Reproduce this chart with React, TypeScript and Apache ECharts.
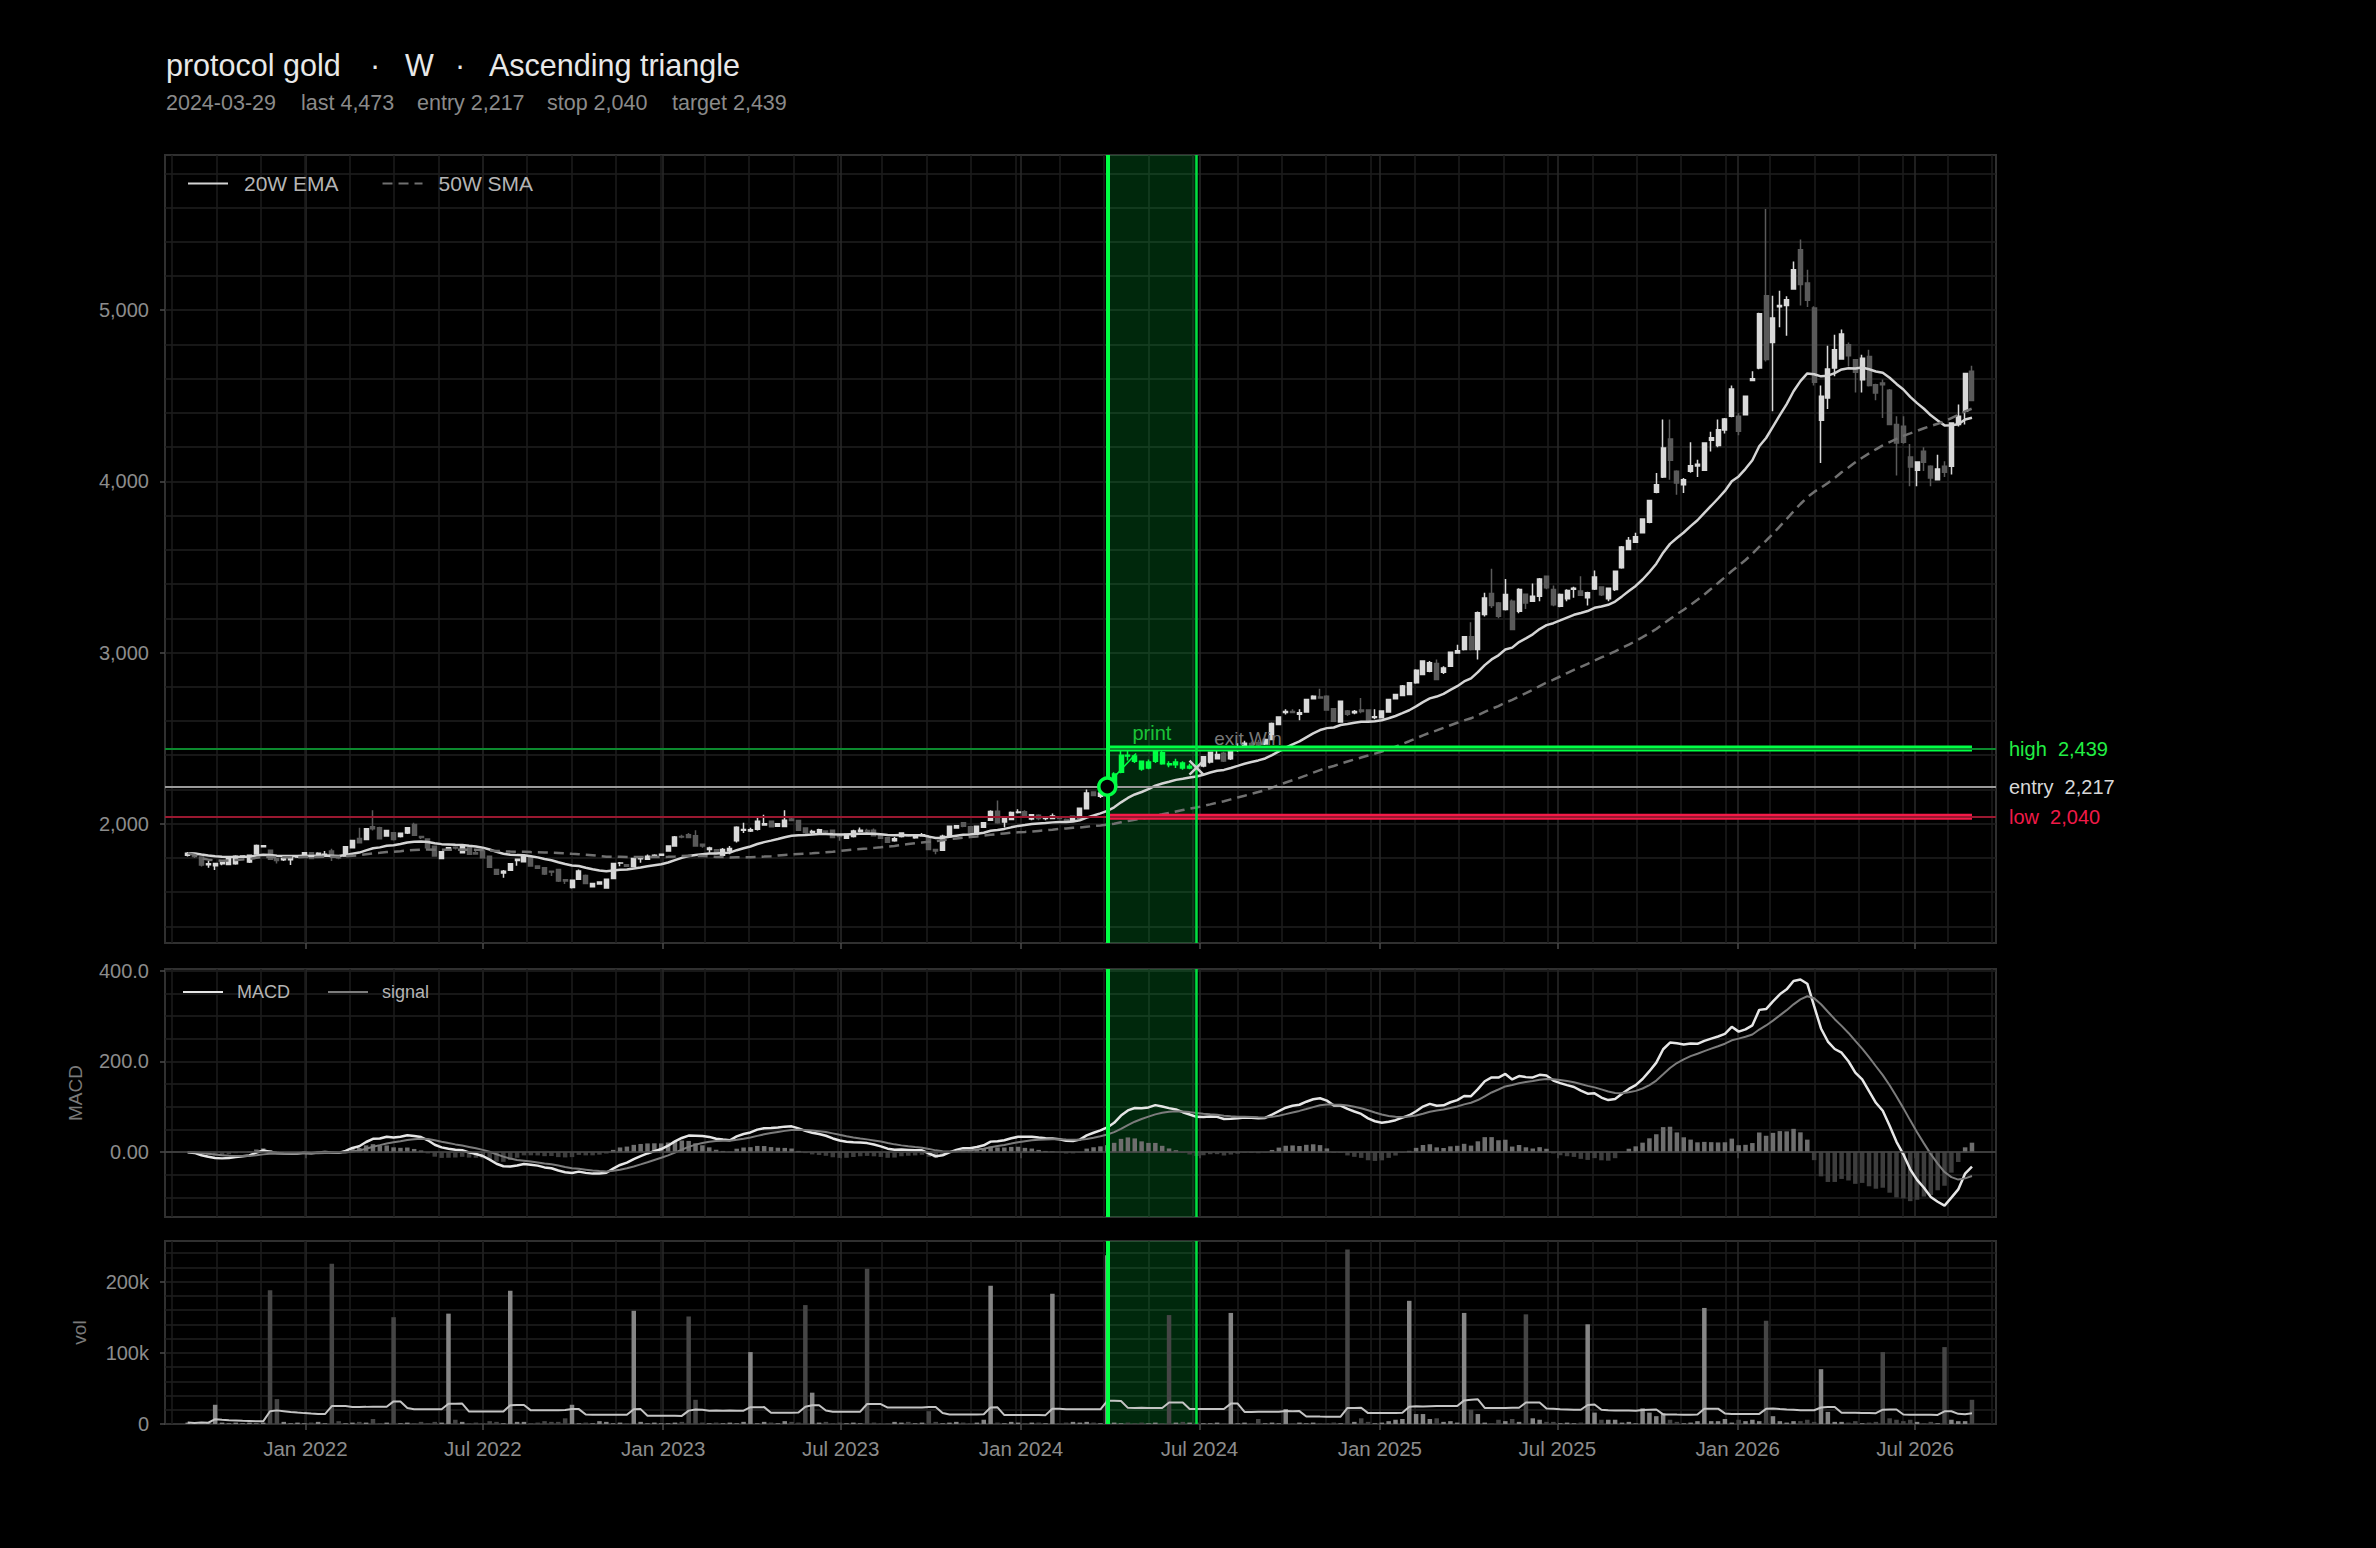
import React, { useEffect, useRef } from "react";
import * as echarts from "echarts";

const FONT = '"Liberation Sans", Arial, Helvetica, sans-serif';
const START_DATE = "2021-09-03";
const WEEK_MS = 7 * 24 * 3600 * 1000;

// weekly candles: [open, close, low, high]
const OHLC: number[][] = [
  [1815,1828,1808,1835],[1826,1808,1800,1830],[1805,1758,1750,1810],[1760,1766,1742,1782],[1755,1767,1730,1772],
  [1766,1776,1757,1785],[1762,1795,1757,1800],[1766,1810,1760,1815],[1805,1811,1800,1816],[1776,1815,1770,1820],
  [1823,1873,1820,1878],[1866,1871,1862,1876],[1845,1792,1788,1850],[1796,1785,1768,1801],[1790,1796,1782,1800],
  [1790,1805,1758,1811],[1806,1811,1800,1815],[1811,1830,1808,1835],[1830,1797,1795,1834],[1809,1828,1806,1833],
  [1818,1822,1811,1840],[1840,1807,1782,1853],[1806,1800,1792,1811],[1811,1865,1808,1868],[1860,1902,1858,1906],
  [1913,1889,1885,1977],[1908,1970,1905,1975],[1982,1970,1960,2078],[1977,1912,1908,1982],[1928,1961,1925,1965],
  [1947,1908,1902,1950],[1925,1944,1920,1948],[1945,1976,1940,1980],[1996,1932,1928,2006],[1925,1920,1910,1930],
  [1910,1860,1855,1915],[1869,1811,1808,1873],[1797,1836,1793,1840],[1855,1860,1850,1862],[1862,1858,1850,1869],
  [1831,1870,1828,1875],[1860,1821,1818,1865],[1830,1823,1818,1840],[1840,1801,1798,1845],[1810,1745,1742,1812],
  [1733,1705,1700,1737],[1712,1722,1684,1730],[1728,1766,1725,1770],[1785,1792,1755,1795],[1778,1811,1775,1815],
  [1801,1753,1750,1805],[1753,1740,1736,1756],[1743,1706,1700,1746],[1722,1718,1694,1725],[1733,1665,1660,1736],
  [1673,1665,1648,1676],[1627,1669,1622,1672],[1675,1723,1672,1733],[1698,1650,1646,1703],[1631,1650,1628,1653],
  [1648,1660,1645,1664],[1625,1675,1620,1678],[1680,1768,1676,1772],[1770,1771,1752,1776],[1760,1752,1748,1762],
  [1750,1797,1747,1800],[1795,1800,1772,1811],[1792,1810,1790,1820],[1805,1815,1802,1821],[1815,1822,1811,1826],
  [1840,1870,1838,1873],[1870,1922,1868,1928],[1925,1922,1915,1935],[1935,1920,1917,1945],[1930,1870,1868,1962],
  [1880,1870,1860,1885],[1850,1858,1830,1865],[1848,1832,1825,1850],[1815,1850,1808,1858],[1840,1855,1822,1870],
  [1900,1980,1890,1985],[1962,1966,1945,2006],[1958,1965,1952,1977],[1968,2015,1960,2035],[1992,2000,1990,2053],
  [2015,1982,1978,2018],[1985,2000,1982,2003],[1983,2020,1980,2078],[2028,2018,2015,2040],[2018,1962,1958,2020],
  [1975,1947,1942,1980],[1948,1955,1938,1965],[1950,1965,1945,1970],[1958,1952,1940,1962],[1962,1920,1915,1965],
  [1935,1925,1900,1940],[1915,1938,1910,1942],[1925,1958,1920,1965],[1955,1962,1948,1978],[1960,1955,1945,1970],
  [1962,1930,1925,1972],[1935,1915,1910,1938],[1918,1892,1888,1920],[1900,1912,1895,1923],[1925,1945,1920,1950],
  [1935,1928,1922,1940],[1918,1925,1912,1930],[1930,1935,1925,1945],[1918,1850,1845,1925],[1850,1840,1822,1852],
  [1845,1927,1842,1935],[1925,1985,1920,1990],[1975,1988,1972,1990],[2005,1985,1980,2010],[1982,1945,1940,1985],
  [1940,1985,1935,1988],[1980,2005,1975,2010],[2020,2072,2018,2078],[2073,2005,2000,2135],[2010,2030,1978,2045],
  [2025,2065,2022,2072],[2065,2068,2060,2085],[2070,2040,2035,2078],[2028,2052,2020,2055],[2050,2030,2020,2055],
  [2030,2031,2020,2040],[2030,2045,2028,2060],[2040,2030,2025,2045],[2025,2010,2005,2030],[2020,2042,2018,2045],
  [2035,2090,2032,2095],[2088,2180,2085,2200],[2185,2165,2160,2188],[2160,2180,2150,2185],[2180,2217,2170,2250],
  [2220,2290,2215,2300],[2300,2400,2295,2430],[2400,2395,2370,2425],[2395,2365,2355,2405],[2365,2320,2310,2370],
  [2325,2360,2318,2375],[2365,2420,2355,2439],[2415,2350,2345,2430],[2350,2345,2330,2365],[2345,2360,2325,2380],
  [2355,2325,2315,2365],[2325,2335,2318,2350],[2335,2330,2320,2345],[2337,2391,2330,2395],[2360,2418,2352,2422],
  [2380,2405,2375,2440],[2411,2366,2360,2420],[2379,2434,2372,2438],[2430,2450,2420,2470],[2450,2470,2440,2485],
  [2468,2455,2445,2480],[2475,2460,2448,2490],[2465,2492,2460,2500],[2492,2586,2488,2592],[2580,2623,2575,2628],
  [2650,2655,2638,2668],[2655,2650,2645,2668],[2640,2648,2605,2668],[2652,2726,2648,2730],[2730,2745,2725,2750],
  [2740,2735,2730,2788],[2745,2664,2660,2750],[2671,2599,2595,2675],[2594,2716,2590,2720],[2658,2640,2630,2665],
  [2648,2655,2640,2665],[2665,2655,2645,2735],[2664,2599,2595,2668],[2620,2625,2610,2668],[2619,2658,2615,2662],
  [2652,2726,2648,2730],[2730,2755,2725,2760],[2749,2804,2745,2810],[2755,2823,2750,2828],[2823,2897,2818,2902],
  [2872,2950,2868,2955],[2891,2940,2885,2950],[2936,2842,2838,2960],[2885,2910,2875,2920],[2920,3002,2915,3005],
  [2998,3010,2995,3046],[3018,3092,3012,3095],[3092,3018,3012,3177],[3018,3232,2960,3240],[3222,3319,3210,3349],
  [3345,3275,3260,3489],[3290,3212,3200,3295],[3251,3339,3245,3430],[3300,3135,3130,3310],[3241,3368,3230,3375],
  [3340,3290,3255,3345],[3300,3329,3295,3403],[3329,3430,3300,3435],[3446,3378,3370,3450],[3368,3280,3270,3392],
  [3271,3339,3265,3345],[3314,3362,3300,3370],[3370,3375,3320,3384],[3360,3335,3330,3446],[3320,3350,3275,3355],
  [3372,3442,3365,3480],[3383,3338,3330,3388],[3315,3376,3300,3380],[3368,3475,3360,3480],[3495,3617,3490,3622],
  [3602,3654,3598,3675],[3645,3676,3640,3700],[3700,3781,3695,3785],[3761,3889,3755,3893],[3936,3981,3930,4049],
  [4026,4195,4020,4361],[4247,4123,4010,4361],[4059,3991,3922,4065],[3981,4010,3932,4020],[4059,4092,4050,4229],
  [4090,4100,4025,4127],[4065,4224,4060,4228],[4240,4255,4175,4290],[4210,4302,4200,4361],[4300,4365,4280,4370],
  [4381,4540,4375,4560],[4381,4293,4270,4400],[4390,4497,4385,4500],[4590,4600,4585,4643],[4663,4980,4655,4985],
  [5085,4712,4700,5591],[4812,4954,4410,5085],[5020,5027,4900,5114],[5027,5062,4851,5081],[5124,5237,5120,5285],
  [5354,5150,5027,5413],[5159,5058,5019,5237],[5013,4579,4560,5023],[4357,4497,4108,4560],[4487,4657,4423,4793],
  [4662,4769,4614,4857],[4715,4861,4710,4887],[4798,4734,4672,4812],[4711,4637,4520,4715],[4594,4720,4520,4740],
  [4730,4560,4555,4769],[4565,4517,4474,4570],[4575,4565,4370,4595],[4532,4332,4330,4540],[4332,4224,4034,4380],
  [4322,4228,4220,4380],[4143,4084,3972,4219],[4065,4113,3972,4118],[4176,4112,4060,4200],[4088,4020,3972,4095],
  [4010,4072,4005,4156],[4088,4053,4026,4117],[4088,4341,4040,4345],[4332,4380,4320,4449],[4410,4630,4332,4635],
  [4643,4473,4470,4676],
];

// weekly volume, thousands
const VOLUME_K: number[] = [
  2,1,3,1,27,2,1,2,1,2, 1,2,188,35,3,1,2,1,2,3, 1,225,4,1,2,3,2,7,1,2,
  150,1,2,1,3,1,3,2,155,6, 3,1,2,1,4,3,1,187,3,3, 1,2,4,3,3,8,27,1,2,1,
  4,3,1,2,1,159,3,1,2,1, 1,2,3,151,34,2,1,2,1,2, 1,3,101,1,3,2,1,4,3,2,
  167,44,2,3,1,2,1,2,1,218, 2,1,1,3,2,3,1,2,18,3, 1,2,3,2,1,2,6,194,2,1,
  3,2,1,2,2,1,183,1,2,3, 2,3,2,1,237,2,1,2,1,2, 1,2,1,153,2,3,2,2,1,1,
  2,1,156,1,2,1,7,1,2,1, 21,1,2,1,2,1,1,2,1,245, 3,8,3,1,2,4,6,7,173,14,
  14,7,8,3,4,2,156,20,14,2, 1,6,4,7,3,154,8,6,3,3, 1,2,1,2,140,16,6,6,6,2,
  3,1,22,16,11,15,6,3,1,2, 4,163,4,4,7,2,6,4,6,4, 145,11,4,2,4,4,6,3,77,17,
  3,3,2,4,1,2,3,101,8,6, 4,6,3,1,3,1,108,6,4,4, 34,
];

const PATTERN_START = 134; // 2024-03-29
const PATTERN_END = 147;
const LEVEL_HIGH = 2439;
const LEVEL_ENTRY = 2217;
const LEVEL_LOW = 2040;
const EXIT_PRICE = 2327;
const TRENDLINE: number[][] = [[134.9, 2268], [138.2, 2410]];

const PRICE_TICKS = [2000, 3000, 4000, 5000];
const MACD_TICKS = [0, 200, 400];
const VOL_TICKS = [0, 100000, 200000];
const X_TICK_DATES = [
  "2022-01-01", "2022-07-01", "2023-01-01", "2023-07-01", "2024-01-01",
  "2024-07-01", "2025-01-01", "2025-07-01", "2026-01-01", "2026-07-01",
];

const PRICE_RANGE = [1303, 5907];
const MACD_RANGE = [-143, 404];
const VOL_RANGE = [0, 257000];
const X_RANGE_WEEKS = [-3.308, 263.5];
const X_MINOR_FIRST = -2.288;
const X_MINOR_STEP = 6.468;

const MONTHS = ["Jan","Feb","Mar","Apr","May","Jun","Jul","Aug","Sep","Oct","Nov","Dec"];

function ema(arr: number[], n: number): number[] {
  const k = 2 / (n + 1);
  const out: number[] = [];
  arr.forEach((v, i) => out.push(i === 0 ? v : v * k + out[i - 1] * (1 - k)));
  return out;
}
function sma(arr: number[], n: number): number[] {
  return arr.map((_, i) => {
    const s = Math.max(0, i - n + 1);
    let sum = 0;
    for (let j = s; j <= i; j++) sum += arr[j];
    return sum / (i - s + 1);
  });
}
const fmt = (v: number) => v.toLocaleString("en-US");

export default function App() {
  const ref = useRef<HTMLDivElement>(null);
  useEffect(() => {
    if (!ref.current) return;
    const chart = echarts.init(ref.current, undefined, { renderer: "svg" });
    const T0 = Date.parse(START_DATE);
    const wt = (w: number) => T0 + w * WEEK_MS;
    const times = OHLC.map((_, i) => wt(i));
    const closes = OHLC.map((r) => r[1]);
    const ema20 = ema(closes, 20);
    const sma50 = sma(closes, 50);
    const e12 = ema(closes, 12);
    const e26 = ema(closes, 26);
    const macd = e12.map((v, i) => v - e26[i]);
    const signal = ema(macd, 9);
    const hist = macd.map((v, i) => v - signal[i]);
    const vols = VOLUME_K.map((v) => v * 1000);
    const volMa = sma(vols, 20);
    const xMin = wt(X_RANGE_WEEKS[0]);
    const xMax = wt(X_RANGE_WEEKS[1]);
    const xTicks = X_TICK_DATES.map((d) => Date.parse(d));
    const xMinor: number[] = [];
    for (let w = X_MINOR_FIRST; w <= X_RANGE_WEEKS[1]; w += X_MINOR_STEP) xMinor.push(wt(w));
    const tStart = wt(PATTERN_START);
    const tEnd = wt(PATTERN_END);
    const tLast = wt(OHLC.length - 1);
    const green = "#00ff44";

    const candleData = OHLC.map((r, i) => {
      const item: any = { value: [times[i], r[0], r[1], r[2], r[3]] };
      if (i >= PATTERN_START && i < PATTERN_END) {
        item.itemStyle = { color: green, color0: green, borderColor: green, borderColor0: green };
      }
      return item;
    });

    const band = {
      silent: true,
      itemStyle: { color: "rgba(0,200,60,0.2)" },
      data: [[{ xAxis: tStart }, { xAxis: tEnd }]],
    };
    const verticals = [
      { xAxis: tStart, lineStyle: { color: green, width: 4, type: "solid" }, label: { show: false } },
      { xAxis: tEnd, lineStyle: { color: "#00e040", width: 2.5, type: "solid" }, label: { show: false } },
    ];
    const levelLabel = (text: string, color: string) => ({
      show: true, position: "end", distance: 13, formatter: text, color, fontSize: 20, fontFamily: FONT,
    });

    const majorX = (g: number) => ({
      type: "value", gridIndex: g, min: xMin, max: xMax, scale: true,
      axisLine: { show: false },
      axisTick: { show: true, length: 6, customValues: xTicks, lineStyle: { color: "#4a4a4a", width: 1.5 } },
      axisLabel: {
        show: g === 2, customValues: xTicks, color: "#8c8c8c", fontSize: 20.5, fontFamily: FONT, margin: 14,
        formatter: (v: number) => { const d = new Date(v); return MONTHS[d.getUTCMonth()] + " " + d.getUTCFullYear(); },
      },
      splitLine: { show: true, lineStyle: { color: "#2a2a2a", width: 1.5 } },
    });
    const minorX = (g: number) => ({
      type: "value", gridIndex: g, min: xMin, max: xMax, scale: true,
      axisLine: { show: false },
      axisTick: { show: false, customValues: xMinor },
      axisLabel: { show: false },
      splitLine: { show: true, lineStyle: { color: "#1c1c1c", width: 1.5 } },
    });
    const labelY = (g: number, range: number[], ticks: number[], f: (v: number) => string, name?: string, gap?: number) => ({
      type: "value", gridIndex: g, min: range[0], max: range[1],
      axisLine: { show: false },
      axisTick: { show: true, length: 5, customValues: ticks, lineStyle: { color: "#4a4a4a", width: 1.5 } },
      axisLabel: { show: true, customValues: ticks, formatter: f, color: "#8c8c8c", fontSize: 20, fontFamily: FONT, margin: 16 },
      splitLine: { show: false },
      name: name || "", nameLocation: "middle", nameRotate: 90, nameGap: gap || 0,
      nameTextStyle: { color: "#7a7a7a", fontSize: 19, fontFamily: FONT },
    });
    const minorY = (g: number, range: number[], from: number, to: number, step: number) => {
      const vals: number[] = [];
      for (let v = from; v <= to; v += step) vals.push(v);
      return {
        type: "value", gridIndex: g, min: range[0], max: range[1],
        axisLine: { show: false }, axisTick: { show: false, customValues: vals }, axisLabel: { show: false },
        splitLine: { show: true, lineStyle: { color: "#1f1f1f", width: 1.5 } },
      };
    };
    const gridBox = { left: 165, right: 380, show: true, borderColor: "#303030", borderWidth: 2, backgroundColor: "transparent" };
    const titleStyle = { fill: "#e8e8e8", fontSize: 30.5, fontFamily: FONT, verticalAlign: "middle" };
    const subStyle = { fill: "#8a8a8a", fontSize: 21.5, fontFamily: FONT, verticalAlign: "middle" };

    const option: any = {
      animation: false,
      backgroundColor: "#000",
      textStyle: { fontFamily: FONT },
      grid: [
        { ...gridBox, top: 155, height: 788 },
        { ...gridBox, top: 969, height: 248 },
        { ...gridBox, top: 1241, height: 183 },
      ],
      xAxis: [majorX(0), majorX(1), majorX(2), minorX(0), minorX(1), minorX(2)],
      yAxis: [
        labelY(0, PRICE_RANGE, PRICE_TICKS, (v) => fmt(v)),
        minorY(0, PRICE_RANGE, 1400, 5800, 200),
        labelY(1, MACD_RANGE, MACD_TICKS, (v) => (v === 0 ? "0.00" : v.toFixed(1)), "MACD", 80),
        minorY(1, MACD_RANGE, -100, 400, 50),
        labelY(2, VOL_RANGE, VOL_TICKS, (v) => (v === 0 ? "0" : v / 1000 + "k"), "vol", 76),
        minorY(2, VOL_RANGE, 20000, 240000, 20000),
      ],
      legend: [
        {
          data: ["20W EMA", "50W SMA"], left: 187, top: 173, padding: 0, itemWidth: 40, itemHeight: 14, itemGap: 43,
          selectedMode: false, itemStyle: { opacity: 0 },
          textStyle: { color: "#b4b4b4", fontSize: 21, fontFamily: FONT, padding: [0, 0, 0, 11] },
        },
        {
          data: ["MACD", "signal"], left: 182, top: 983, padding: 0, itemWidth: 40, itemHeight: 14, itemGap: 37,
          selectedMode: false, itemStyle: { opacity: 0 },
          textStyle: { color: "#b4b4b4", fontSize: 18, fontFamily: FONT, padding: [0, 0, 0, 9] },
        },
      ],
      graphic: [
        { type: "text", x: 166, y: 65, style: { ...titleStyle, text: "protocol gold" } },
        { type: "text", x: 375, y: 65, style: { ...titleStyle, text: "·", align: "center" } },
        { type: "text", x: 405, y: 65, style: { ...titleStyle, text: "W" } },
        { type: "text", x: 460, y: 65, style: { ...titleStyle, text: "·", align: "center" } },
        { type: "text", x: 489, y: 65, style: { ...titleStyle, text: "Ascending triangle" } },
        { type: "text", x: 166, y: 103, style: { ...subStyle, text: "2024-03-29" } },
        { type: "text", x: 301, y: 103, style: { ...subStyle, text: "last " + fmt(closes[closes.length - 1]) } },
        { type: "text", x: 417, y: 103, style: { ...subStyle, text: "entry " + fmt(LEVEL_ENTRY) } },
        { type: "text", x: 547, y: 103, style: { ...subStyle, text: "stop " + fmt(LEVEL_LOW) } },
        { type: "text", x: 672, y: 103, style: { ...subStyle, text: "target " + fmt(LEVEL_HIGH) } },
      ],
      series: [
        {
          type: "candlestick", name: "price", xAxisIndex: 0, yAxisIndex: 0, barWidth: 4.5,
          encode: { x: 0, y: [1, 2, 3, 4] },
          itemStyle: { color: "#d9d9d9", color0: "#5a5a5a", borderColor: "#d9d9d9", borderColor0: "#5a5a5a", borderWidth: 1.5 },
          data: candleData,
          markArea: band,
          markLine: {
            silent: true, symbol: ["none", "none"],
            data: [
              { yAxis: LEVEL_HIGH, lineStyle: { color: "#0c8a2e", width: 2, type: "solid" }, label: levelLabel("high  " + fmt(LEVEL_HIGH), "#22ee44") },
              { yAxis: LEVEL_ENTRY, lineStyle: { color: "#9a9a9a", width: 2, type: "solid" }, label: levelLabel("entry  " + fmt(LEVEL_ENTRY), "#d8d8d8") },
              { yAxis: LEVEL_LOW, lineStyle: { color: "#9a1830", width: 2, type: "solid" }, label: levelLabel("low  " + fmt(LEVEL_LOW), "#f01a48") },
              ...verticals,
            ],
          },
        },
        {
          type: "line", name: "20W EMA", xAxisIndex: 0, yAxisIndex: 0, symbol: "none", z: 3,
          color: "#d4d4d4", lineStyle: { color: "#d4d4d4", width: 2.5 },
          data: ema20.map((v, i) => [times[i], v]),
        },
        {
          type: "line", name: "50W SMA", xAxisIndex: 0, yAxisIndex: 0, symbol: "none", z: 3,
          color: "#707070", lineStyle: { color: "#707070", width: 2.5, type: [10, 6] },
          data: sma50.map((v, i) => [times[i], v]),
        },
        {
          type: "line", name: "high band", xAxisIndex: 0, yAxisIndex: 0, symbol: "none", z: 4, silent: true,
          lineStyle: { color: green, width: 6 }, data: [[tStart, LEVEL_HIGH], [tLast, LEVEL_HIGH]],
        },
        {
          type: "line", name: "low band", xAxisIndex: 0, yAxisIndex: 0, symbol: "none", z: 4, silent: true,
          lineStyle: { color: "#f51a48", width: 6 }, data: [[tStart, LEVEL_LOW], [tLast, LEVEL_LOW]],
        },
        {
          type: "line", name: "trend", xAxisIndex: 0, yAxisIndex: 0, symbol: "none", z: 4, silent: true,
          lineStyle: { color: green, width: 1.5 }, data: TRENDLINE.map((p) => [wt(p[0]), p[1]]),
        },
        {
          type: "scatter", name: "entry", xAxisIndex: 0, yAxisIndex: 0, z: 6, silent: true,
          symbol: "circle", symbolSize: 17,
          itemStyle: { color: "#000", borderColor: green, borderWidth: 3.5, opacity: 1 },
          data: [[tStart, LEVEL_ENTRY]],
        },
        {
          type: "scatter", name: "exit", xAxisIndex: 0, yAxisIndex: 0, z: 6, silent: true,
          symbol: "path://M0,0L10,10M10,0L0,10", symbolSize: 14,
          itemStyle: { color: "rgba(0,0,0,0)", borderColor: "#d0d0d0", borderWidth: 2.5, opacity: 1 },
          label: { show: true, formatter: "exit Win", position: [26, -30], color: "#777", fontSize: 19, fontFamily: FONT },
          data: [[tEnd, EXIT_PRICE]],
        },
        {
          type: "scatter", name: "print", xAxisIndex: 0, yAxisIndex: 0, z: 6, silent: true,
          symbolSize: 1, itemStyle: { color: "rgba(0,0,0,0)" },
          label: { show: true, formatter: "print", position: "top", distance: 5, color: "#22ee44", fontSize: 20, fontFamily: FONT },
          data: [[(tStart + tEnd) / 2, LEVEL_HIGH]],
        },
        {
          type: "bar", name: "hist", xAxisIndex: 1, yAxisIndex: 2, barWidth: 4.5,
          data: hist.map((v, i) => ({ value: [times[i], v], itemStyle: { color: v >= 0 ? "#6e6e6e" : "#3d3d3d" } })),
          markArea: band,
          markLine: {
            silent: true, symbol: ["none", "none"],
            data: [{ yAxis: 0, lineStyle: { color: "#4a4a4a", width: 1.5, type: "solid" }, label: { show: false } }, ...verticals],
          },
        },
        {
          type: "line", name: "MACD", xAxisIndex: 1, yAxisIndex: 2, symbol: "none", z: 3,
          color: "#e6e6e6", lineStyle: { color: "#e6e6e6", width: 2.5 },
          data: macd.map((v, i) => [times[i], v]),
        },
        {
          type: "line", name: "signal", xAxisIndex: 1, yAxisIndex: 2, symbol: "none", z: 3,
          color: "#7c7c7c", lineStyle: { color: "#7c7c7c", width: 2 },
          data: signal.map((v, i) => [times[i], v]),
        },
        {
          type: "bar", name: "vol", xAxisIndex: 2, yAxisIndex: 4, barWidth: 4.5,
          data: vols.map((v, i) => ({
            value: [times[i], v],
            itemStyle: { color: OHLC[i][1] >= OHLC[i][0] ? "#858585" : "#454545" },
          })),
          markArea: band,
          markLine: { silent: true, symbol: ["none", "none"], data: verticals },
        },
        {
          type: "line", name: "vol ma", xAxisIndex: 2, yAxisIndex: 4, symbol: "none", z: 3,
          lineStyle: { color: "#c4c4c4", width: 2 },
          data: volMa.map((v, i) => [times[i], v]),
        },
      ],
    };
    chart.setOption(option);
    return () => chart.dispose();
  }, []);
  return (
    <div
      ref={ref}
      style={{ position: "absolute", left: 0, top: 0, width: 2376, height: 1548, background: "#000" }}
    />
  );
}
